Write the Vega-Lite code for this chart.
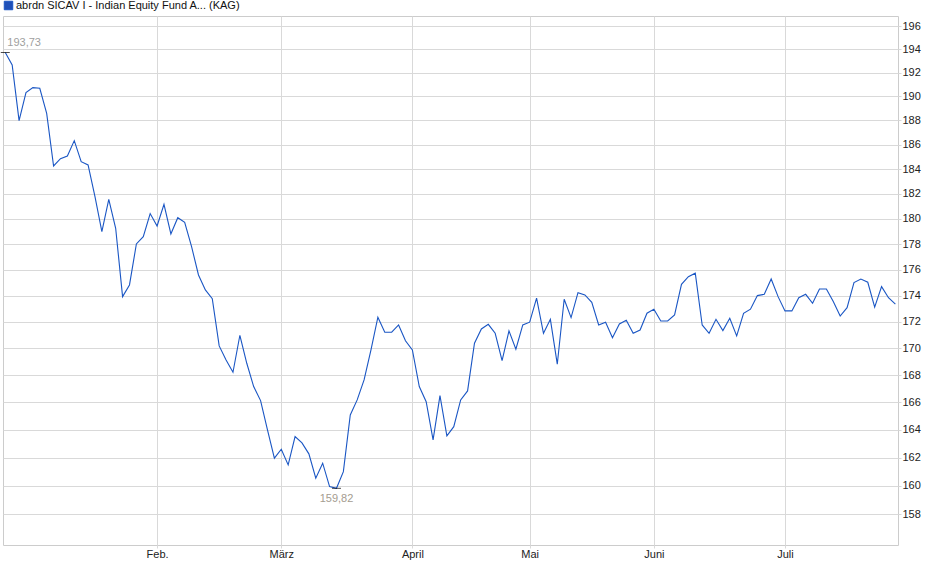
{
  "$schema": "https://vega.github.io/schema/vega-lite/v6.json",
  "width": 895,
  "height": 529,
  "autosize": {"type": "none"},
  "padding": {"left": 3, "top": 16, "right": 42, "bottom": 34},
  "background": "white",
  "data": {
    "values": [
      {"i": 0, "v": 193.73}, {"i": 1, "v": 192.66}, {"i": 2, "v": 187.98}, {"i": 3, "v": 190.32},
      {"i": 4, "v": 190.74}, {"i": 5, "v": 190.69}, {"i": 6, "v": 188.59}, {"i": 7, "v": 184.26},
      {"i": 8, "v": 184.85}, {"i": 9, "v": 185.07}, {"i": 10, "v": 186.33}, {"i": 11, "v": 184.61},
      {"i": 12, "v": 184.34}, {"i": 13, "v": 181.78}, {"i": 14, "v": 178.99}, {"i": 15, "v": 181.57},
      {"i": 16, "v": 179.26}, {"i": 17, "v": 173.93}, {"i": 18, "v": 174.83}, {"i": 19, "v": 178.02},
      {"i": 20, "v": 178.6}, {"i": 21, "v": 180.43}, {"i": 22, "v": 179.44}, {"i": 23, "v": 181.17},
      {"i": 24, "v": 178.81}, {"i": 25, "v": 180.1}, {"i": 26, "v": 179.73}, {"i": 27, "v": 177.81},
      {"i": 28, "v": 175.6}, {"i": 29, "v": 174.45}, {"i": 30, "v": 173.78}, {"i": 31, "v": 170.19},
      {"i": 32, "v": 169.14}, {"i": 33, "v": 168.22}, {"i": 34, "v": 170.99}, {"i": 35, "v": 168.89},
      {"i": 36, "v": 167.16}, {"i": 37, "v": 166.13}, {"i": 38, "v": 163.99}, {"i": 39, "v": 161.96},
      {"i": 40, "v": 162.6}, {"i": 41, "v": 161.48}, {"i": 42, "v": 163.51}, {"i": 43, "v": 163.06},
      {"i": 44, "v": 162.27}, {"i": 45, "v": 160.54}, {"i": 46, "v": 161.6}, {"i": 47, "v": 159.94},
      {"i": 48, "v": 159.82}, {"i": 49, "v": 161.0}, {"i": 50, "v": 165.08}, {"i": 51, "v": 166.18},
      {"i": 52, "v": 167.65}, {"i": 53, "v": 169.89}, {"i": 54, "v": 172.36}, {"i": 55, "v": 171.22},
      {"i": 56, "v": 171.22}, {"i": 57, "v": 171.77}, {"i": 58, "v": 170.58}, {"i": 59, "v": 169.89},
      {"i": 60, "v": 167.16}, {"i": 61, "v": 166.05}, {"i": 62, "v": 163.27}, {"i": 63, "v": 166.49},
      {"i": 64, "v": 163.56}, {"i": 65, "v": 164.23}, {"i": 66, "v": 166.18}, {"i": 67, "v": 166.84},
      {"i": 68, "v": 170.39}, {"i": 69, "v": 171.47}, {"i": 70, "v": 171.82}, {"i": 71, "v": 171.14},
      {"i": 72, "v": 169.09}, {"i": 73, "v": 171.32}, {"i": 74, "v": 169.94}, {"i": 75, "v": 171.77},
      {"i": 76, "v": 171.98}, {"i": 77, "v": 173.81}, {"i": 78, "v": 171.14}, {"i": 79, "v": 172.2},
      {"i": 80, "v": 168.82}, {"i": 81, "v": 173.73}, {"i": 82, "v": 172.33}, {"i": 83, "v": 174.24},
      {"i": 84, "v": 174.06}, {"i": 85, "v": 173.5}, {"i": 86, "v": 171.77}, {"i": 87, "v": 171.98},
      {"i": 88, "v": 170.81}, {"i": 89, "v": 171.85}, {"i": 90, "v": 172.13}, {"i": 91, "v": 171.14},
      {"i": 92, "v": 171.39}, {"i": 93, "v": 172.66}, {"i": 94, "v": 172.97}, {"i": 95, "v": 172.07},
      {"i": 96, "v": 172.07}, {"i": 97, "v": 172.53}, {"i": 98, "v": 174.88}, {"i": 99, "v": 175.47},
      {"i": 100, "v": 175.74}, {"i": 101, "v": 171.77}, {"i": 102, "v": 171.14}, {"i": 103, "v": 172.2},
      {"i": 104, "v": 171.34}, {"i": 105, "v": 172.28}, {"i": 106, "v": 170.94}, {"i": 107, "v": 172.66},
      {"i": 108, "v": 172.97}, {"i": 109, "v": 174.01}, {"i": 110, "v": 174.11}, {"i": 111, "v": 175.29},
      {"i": 112, "v": 173.93}, {"i": 113, "v": 172.84}, {"i": 114, "v": 172.84}, {"i": 115, "v": 173.85},
      {"i": 116, "v": 174.11}, {"i": 117, "v": 173.42}, {"i": 118, "v": 174.52}, {"i": 119, "v": 174.52},
      {"i": 120, "v": 173.55}, {"i": 121, "v": 172.45}, {"i": 122, "v": 173.09}, {"i": 123, "v": 175.01},
      {"i": 124, "v": 175.29}, {"i": 125, "v": 175.04}, {"i": 126, "v": 173.12}, {"i": 127, "v": 174.7},
      {"i": 128, "v": 173.85}, {"i": 129, "v": 173.35}
    ]
  },
  "encoding": {
    "x": {
      "field": "i",
      "type": "quantitative",
      "scale": {"domain": [-0.33, 129.38], "nice": false, "zero": false},
      "axis": {
        "title": null,
        "values": [22, 40, 59, 76, 94, 113],
        "labelExpr": "{'22': 'Feb.', '40': 'März', '59': 'April', '76': 'Mai', '94': 'Juni', '113': 'Juli'}[datum.value + '']",
        "domain": false,
        "tickSize": 3,
        "tickColor": "#d9d9d9",
        "labelPadding": 0,
        "gridColor": "#d9d9d9"
      }
    },
    "y": {
      "field": "v",
      "type": "quantitative",
      "scale": {"type": "log", "domain": [155.87, 196.87], "nice": false},
      "axis": {
        "title": null,
        "orient": "right",
        "values": [158, 160, 162, 164, 166, 168, 170, 172, 174, 176, 178, 180, 182, 184, 186, 188, 190, 192, 194, 196],
        "format": "d",
        "domain": false,
        "tickSize": 3,
        "tickColor": "#d9d9d9",
        "labelPadding": 1,
        "gridColor": "#d9d9d9"
      }
    }
  },
  "layer": [
    {
      "mark": {"type": "line", "strokeWidth": 1.1},
      "encoding": {
        "color": {
          "datum": "abrdn SICAV I - Indian Equity Fund A... (KAG)",
          "scale": {"range": ["#1a56c4"]},
          "legend": {
            "title": null,
            "orient": "none",
            "legendX": 0,
            "legendY": -16,
            "padding": 0,
            "labelFontSize": 11,
            "labelColor": "#111111",
            "labelLimit": 400,
            "labelOffset": 2,
            "symbolType": "square",
            "symbolSize": 72,
            "encode": {
              "symbols": {
                "update": {
                  "fill": {"value": "#1f50b8"},
                  "stroke": {"value": "#18337a"},
                  "strokeWidth": {"value": 1},
                  "opacity": {"value": 1}
                }
              }
            }
          }
        }
      }
    },
    {
      "transform": [
        {"joinaggregate": [{"op": "max", "field": "v", "as": "vmax"}, {"op": "min", "field": "v", "as": "vmin"}]},
        {"filter": "datum.v == datum.vmax || datum.v == datum.vmin"}
      ],
      "mark": {"type": "tick", "orient": "horizontal", "color": "#000000", "size": 9, "thickness": 1}
    },
    {
      "transform": [
        {"joinaggregate": [{"op": "max", "field": "v", "as": "vmax"}]},
        {"filter": "datum.v == datum.vmax"}
      ],
      "mark": {"type": "text", "align": "left", "dx": 2, "dy": -9, "fontSize": 11, "color": "#a0a0a0"},
      "encoding": {"text": {"field": "v", "type": "quantitative", "format": ",.2f"}}
    },
    {
      "transform": [
        {"joinaggregate": [{"op": "min", "field": "v", "as": "vmin"}]},
        {"filter": "datum.v == datum.vmin"}
      ],
      "mark": {"type": "text", "align": "center", "dy": 11, "fontSize": 11, "color": "#a49c90"},
      "encoding": {"text": {"field": "v", "type": "quantitative", "format": ",.2f"}}
    }
  ],
  "config": {
    "locale": {
      "number": {"decimal": ",", "thousands": ".", "grouping": [3], "currency": ["", " €"]}
    },
    "font": "Liberation Sans",
    "view": {"stroke": "#cccccc"},
    "axis": {"labelFontSize": 11, "labelColor": "#222222", "labelFont": "Liberation Sans", "gridWidth": 1}
  }
}
